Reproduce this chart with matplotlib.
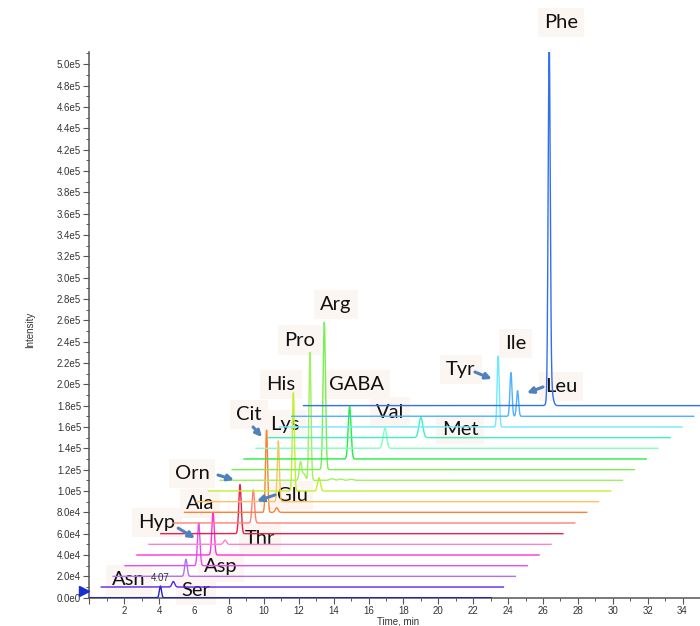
import numpy as np
import matplotlib
matplotlib.use("Agg")
import matplotlib.pyplot as plt
from matplotlib.ticker import MultipleLocator, FuncFormatter

# ---- data ----
# one trace per MRM channel, bottom to top
trace_colors = ['#2323c8', '#5a22f0', '#b070f0', '#e050f0', '#ff30d8', '#ff82c8',
                '#e8204a', '#ff8070', '#ff8030', '#ffc060', '#c0f030', '#a0f060',
                '#78f050', '#20f040', '#80ffc0', '#40f0c0', '#70e8ff', '#50b0ff',
                '#3070f0']
run_length = 23.05      # min, length of each trace
x_offset = 0.682        # min shift between traces
y_offset = 1.0e4        # intensity shift between traces

# peaks: trace index, retention time (min), height, width (sigma, min)
peak_trace = [0, 1, 2, 3, 4, 5, 6, 7, 8, 8, 9, 10, 10, 11, 11, 11, 11, 11, 11,
              12, 13, 14, 15, 16, 17, 17, 18, 18]
peak_rt = [4.07, 4.13, 4.17, 4.22, 4.36, 4.36, 4.54, 4.62, 4.70, 5.28, 4.69,
           4.87, 6.34, 4.60, 4.80, 5.14, 6.40, 6.90, 7.50,
           5.28, 6.05, 7.39, 8.77, 12.52, 12.57, 12.95, 14.08, 14.14]
peak_height = [1.1e4, 5.2e3, 1.6e4, 4.0e4, 4.0e4, 4.0e3, 4.6e4, 3.1e4, 7.7e4, 4.3e3,
               5.7e4, 9.2e4, 1.25e4, 1.75e4, 6.0e3, 1.2e5, 1.5e3, 1.2e3, 1.0e3,
               1.38e5, 4.9e4, 1.9e4, 1.9e4, 6.65e4, 4.1e4, 2.4e4, 3.2e5, 2.0e4]
peak_sigma = [0.06, 0.08, 0.07, 0.07, 0.07, 0.08, 0.07, 0.07, 0.06, 0.08, 0.06,
              0.06, 0.08, 0.07, 0.08, 0.06, 0.12, 0.12, 0.12,
              0.07, 0.08, 0.10, 0.11, 0.06, 0.06, 0.06, 0.06, 0.12]

# annotations: text, x (min), y (intensity)
label_text = ['Phe', 'Arg', 'Pro', 'His', 'GABA', 'Val', 'Met', 'Tyr', 'Ile', 'Leu',
              'Cit', 'Lys', 'Orn', 'Glu', 'Ala', 'Thr', 'Hyp', 'Asp', 'Asn', 'Ser']
label_x = [27.03, 14.13, 12.07, 10.98, 15.33, 17.22, 21.24, 21.29, 24.44, 27.03,
           9.15, 11.21, 5.88, 11.61, 6.34, 9.78, 3.87, 7.54, 2.27, 6.11]
label_y = [5.39e5, 2.75e5, 2.415e5, 2.0e5, 2.0e5, 1.74e5, 1.58e5, 2.14e5, 2.38e5, 1.975e5,
           1.72e5, 1.62e5, 1.16e5, 0.954e5, 0.879e5, 0.551e5, 0.702e5, 0.288e5,
           0.166e5, 0.072e5]

# arrows: start -> end
arrow_from = [(5.09, 0.652e5), (7.37, 1.15e5), (9.38, 1.60e5), (10.64, 0.963e5),
              (22.1, 2.115e5), (26.0, 1.975e5)]
arrow_to = [(6.05, 0.558e5), (8.29, 1.103e5), (9.89, 1.506e5), (9.60, 0.906e5),
            (23.07, 2.05e5), (25.08, 1.918e5)]

# ---- figure ----
fig = plt.figure(figsize=(7, 6.26), dpi=100)
ax = fig.add_axes([89.4 / 700, 28.3 / 626, 1 - 89.4 / 700, 545.7 / 626])

t = np.arange(0, run_length + 0.005, 0.005)
rt = np.array(peak_rt)
hh = np.array(peak_height)
ss = np.array(peak_sigma)
pt = np.array(peak_trace)
for i, c in enumerate(trace_colors):
    y = np.zeros_like(t)
    for r, h, s in zip(rt[pt == i], hh[pt == i], ss[pt == i]):
        y += h * np.exp(-0.5 * ((t - r) / s) ** 2)
    ax.plot(t + i * x_offset, y + i * y_offset, color=c, lw=1.0, zorder=3)

for s, x, y in zip(label_text, label_x, label_y):
    ax.text(x, y, s, fontsize=14.5, family=['Lato', 'DejaVu Sans'], ha='center',
            va='center', color='#111111', zorder=2, clip_on=False,
            bbox=dict(boxstyle='square,pad=0.3', fc='#fcf6f2', ec='none'))
ax.text(4.05, 0.185e5, '4.07', fontsize=7, family='Liberation Sans', ha='center',
        va='center', color='#333333', zorder=4)

for a, b in zip(arrow_from, arrow_to):
    ax.annotate('', xy=b, xytext=a, zorder=4,
                arrowprops=dict(arrowstyle='-|>', color='#4f81bd', lw=2.2,
                                mutation_scale=9, shrinkA=0, shrinkB=0))

# blue start marker on the y axis
ax.plot([-0.3], [0.6e4], marker='>', ms=7, color='#1530d0', clip_on=False, zorder=5)

ax.set_xlim(0, 35)
ax.set_ylim(0, 5.114e5)
ax.spines['top'].set_visible(False)
ax.spines['right'].set_visible(False)
for sp in ('left', 'bottom'):
    ax.spines[sp].set_color('#555555')
    ax.spines[sp].set_linewidth(1.1)

ax.xaxis.set_major_locator(MultipleLocator(2))
ax.xaxis.set_minor_locator(MultipleLocator(1))
ax.yaxis.set_major_locator(MultipleLocator(2e4))
ax.yaxis.set_minor_locator(MultipleLocator(1e4))


def sci(v, pos):
    if v <= 0:
        return '0.0e0'
    e = int(np.floor(np.log10(v) + 1e-9))
    return '%.1fe%d' % (v / 10 ** e, e)


def xlab(v, pos):
    return '' if v <= 0 else '%d' % v


ax.yaxis.set_major_formatter(FuncFormatter(sci))
ax.xaxis.set_major_formatter(FuncFormatter(xlab))
ax.tick_params(which='major', length=4, width=0.8, color='#555555', labelsize=7,
               labelcolor='#333333', pad=2)
ax.tick_params(which='minor', length=2, width=0.7, color='#555555')
for lab in ax.get_xticklabels() + ax.get_yticklabels():
    lab.set_family('Liberation Sans')

fig.text(30 / 700, 1 - 330 / 626, 'Intensity', rotation=90, fontsize=7,
         family='Liberation Sans', ha='center', va='center', color='#333333')
fig.text(398 / 700, 1 - 621 / 626, 'Time, min', fontsize=7,
         family='Liberation Sans', ha='center', va='center', color='#333333')

fig.savefig('out.png', dpi=100)
